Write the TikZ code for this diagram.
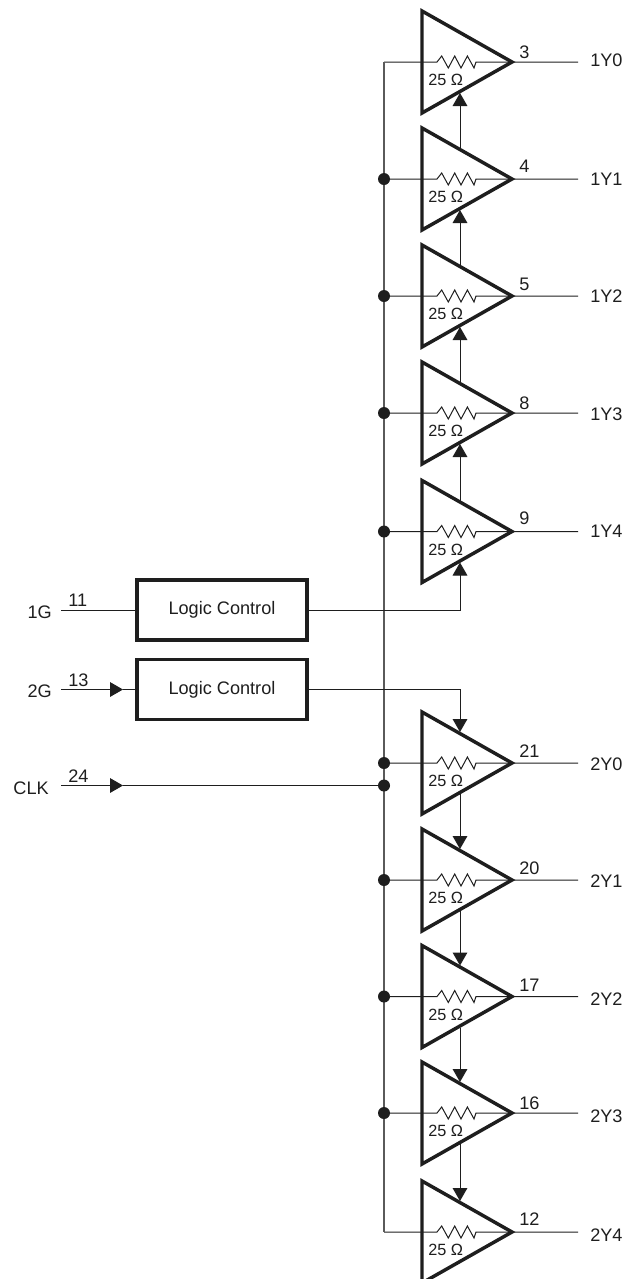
\documentclass[tikz,border=0pt]{standalone}
\usepackage{fontspec}
\setmainfont{Liberation Sans}
\usetikzlibrary{shapes.geometric,arrows.meta}
\definecolor{inkblack}{RGB}{30, 30, 30}
\definecolor{busgray}{RGB}{90, 90, 90}
\tikzset{
    wire/.style={draw=inkblack,line width=0.75pt},
    buswire/.style={draw=busgray,line width=0.85pt},
    sigarrow/.style={wire,-{Triangle[width=11pt,length=9.75pt]}},
    ampbox/.style={draw=inkblack,line width=2.6pt,isosceles triangle,isosceles triangle stretches,inner sep=0pt,outer sep=0pt,minimum width=76.5pt,minimum height=67.5pt,anchor=apex},
    logicbox/.style={draw=inkblack,line width=2.5pt,inner sep=0pt,minimum width=127.5pt,minimum height=45pt,font=\fontsize{13.6}{15}\selectfont,text=inkblack},
    busdot/.style={circle,fill=inkblack,inner sep=0pt,minimum size=9pt},
    pintext/.style={anchor=base west,inner sep=0pt,font=\fontsize{13.6}{15}\selectfont,text=inkblack},
    signame/.style={anchor=base east,inner sep=0pt,font=\fontsize{13.6}{15}\selectfont,text=inkblack},
    outname/.style={anchor=base west,inner sep=0pt,font=\fontsize{13.6}{15}\selectfont,text=inkblack},
    ohmtext/.style={anchor=base west,inner sep=0pt,font=\fontsize{12.2}{14}\selectfont,text=inkblack}
}

\begin{document}
\begin{tikzpicture}[x=0.75pt,y=-0.75pt]
    \clip (0,0) rectangle (626,1279);

    % Buffers with their outputs
    \foreach \idx/\ypos/\pin/\pinup/\name/\namedown in {1/62/3/3.5/1Y0/4.5,2/179/4/6.6/1Y1/6,3/296/5/6/1Y2/6.5,4/413/8/3.7/1Y3/7,5/531.5/9/6.7/1Y4/6,6/763/21/5.3/2Y0/7,7/880/20/5.7/2Y1/7.5,8/996.5/17/4.7/2Y2/9,9/1113/16/3.3/2Y3/9,10/1232/12/6.7/2Y4/9} {
        \node[ampbox] (amp\idx) at (512,\ypos) {};
        \coordinate (bus\idx) at (384,\ypos);
        \coordinate (out\idx) at (578,\ypos);
        \coordinate (top\idx) at (460,\ypos-31);
        \coordinate (bot\idx) at (460,\ypos+31);
        \draw[wire] (bus\idx) -- ++(53,0) -- ++(4.7,-6) -- ++(6.6,12) -- ++(6.4,-12) -- ++(6.3,12) -- ++(6.4,-12) -- ++(6.6,12) -- ++(2,-6) -- (amp\idx.apex) -- (out\idx);
        \node[pintext] (pin\idx) at (519,\ypos-\pinup) {\pin};
        \node[outname] (name\idx) at (590,\ypos+\namedown) {\name};
        \node[ohmtext] (ohm\idx) at (428,\ypos+23.5) {25 Ω};
    }

    % Shared clock line
    \draw[buswire] (bus1) -- (bus10);
    \foreach \idx in {2,...,9} {
        \node[busdot] (dot\idx) at (bus\idx) {};
    }

    % Enable chains
    \foreach \from/\to in {2/1,3/2,4/3,5/4} {
        \draw[sigarrow] (top\from) -- (bot\to);
    }
    \foreach \from/\to in {6/7,7/8,8/9,9/10} {
        \draw[sigarrow] (bot\from) -- (top\to);
    }

    % Logic blocks
    \node[logicbox] (logicA) at (222,610) {Logic Control\hspace{4pt}};
    \node[logicbox] (logicB) at (222,689.5) {Logic Control\hspace{4pt}};
    \coordinate (in1G) at (61,610);
    \coordinate (in2G) at (61,689.5);
    \coordinate (inCLK) at (61,785.5);
    \coordinate (tip2G) at (123,689.5);
    \coordinate (tipCLK) at (123,785.5);
    \node[busdot] (dotCLK) at (384,785.5) {};
    \draw[wire] (in1G) -- (logicA);
    \draw[sigarrow] (in2G) -- (tip2G);
    \draw[wire] (tip2G) -- (logicB);
    \draw[sigarrow] (inCLK) -- (tipCLK);
    \draw[wire] (tipCLK) -- (dotCLK);
    \draw[sigarrow] (logicA) -| (bot5);
    \draw[sigarrow] (logicB) -| (top6);

    % Input labels
    \node[signame] (name1G) at (52,618) {1G};
    \node[signame] (name2G) at (52,697) {2G};
    \node[signame] (nameCLK) at (49,794) {CLK};
    \node[pintext] (pin1G) at (68,606) {11};
    \node[pintext] (pin2G) at (68,686) {13};
    \node[pintext] (pinCLK) at (68,782) {24};
\end{tikzpicture}
\end{document}
